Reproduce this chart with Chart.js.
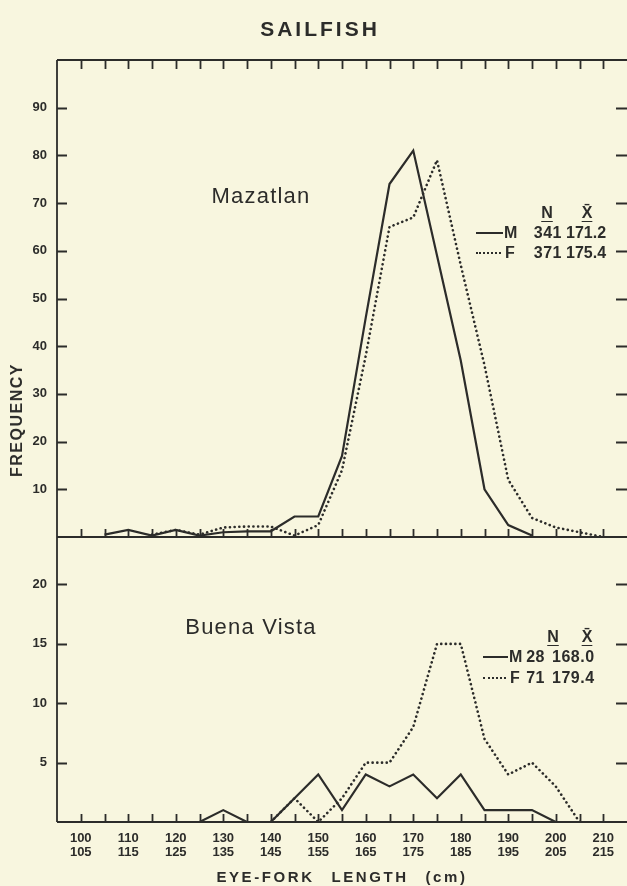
<!DOCTYPE html>
<html>
<head>
<meta charset="utf-8">
<title>Sailfish</title>
<script src="https://cdn.jsdelivr.net/npm/chart.js@4.4.0/dist/chart.umd.min.js"></script>
<style>
    html, body { margin: 0; padding: 0; background: #f8f6df; }
    body { width: 627px; height: 886px; position: relative; overflow: hidden;
           font-family: "Liberation Sans", Arial, sans-serif; color: #2c2c2a; }
    .box { position: absolute; left: 0; width: 627px; }
    .t { position: absolute; white-space: nowrap; line-height: 1; }
    .c { transform: translate(-50%, -50%); }
    .l { transform: translate(0, -50%); }
    .r { transform: translate(-100%, -50%); }
    .title { font-size: 21px; font-weight: bold; letter-spacing: 3px; }
    .place { font-size: 22px; letter-spacing: 1.2px; }
    .leg { font-size: 16px; font-weight: bold; }
    .num { letter-spacing: 0.5px; }
    .hd { text-decoration: underline; text-underline-offset: 3px; }
    .solid { position: absolute; height: 0; border-top: 2.5px solid #2c2c2a; }
    .dots { position: absolute; height: 0; border-top: 2.5px dotted #2c2c2a; }
    .ylab { font-size: 16px; font-weight: bold; letter-spacing: 1.5px; transform: translate(-50%, -50%) rotate(-90deg); }
    .xlab { font-size: 15px; font-weight: bold; letter-spacing: 2.6px; word-spacing: 10px; }
</style>
</head>
<body>
<div class="box" style="top:0;height:545px"><canvas id="topChart"></canvas></div>
<div class="box" style="top:530px;height:356px"><canvas id="botChart"></canvas></div>

<div class="t c title" style="left:320px;top:28px">SAILFISH</div>
<div class="t c place" style="left:261px;top:196px">Mazatlan</div>
<div class="t c place" style="left:251px;top:627px">Buena Vista</div>

<!-- Mazatlan legend -->
<div class="t c leg hd" style="left:547px;top:213px">N</div>
<div class="t c leg hd" style="left:587px;top:213px">X&#772;</div>
<div class="solid" style="left:476px;top:232px;width:27px"></div>
<div class="t l leg" style="left:504px;top:233px">M</div>
<div class="t r leg num" style="left:562px;top:233px">341</div>
<div class="t l leg" style="left:566px;top:233px">171.2</div>
<div class="dots" style="left:476px;top:252px;width:25px"></div>
<div class="t l leg" style="left:505px;top:253px">F</div>
<div class="t r leg num" style="left:562px;top:253px">371</div>
<div class="t l leg" style="left:566px;top:253px">175.4</div>

<!-- Buena Vista legend -->
<div class="t c leg hd" style="left:553px;top:637px">N</div>
<div class="t c leg hd" style="left:587px;top:637px">X&#772;</div>
<div class="solid" style="left:483px;top:656px;width:25px"></div>
<div class="t l leg" style="left:509px;top:657px">M</div>
<div class="t r leg num" style="left:545px;top:657px">28</div>
<div class="t l leg num" style="left:552px;top:657px">168.0</div>
<div class="dots" style="left:483px;top:677px;width:23px"></div>
<div class="t l leg" style="left:510px;top:678px">F</div>
<div class="t r leg num" style="left:545px;top:678px">71</div>
<div class="t l leg num" style="left:552px;top:678px">179.4</div>

<div class="t ylab" style="left:17px;top:420px">FREQUENCY</div>
<div class="t c xlab" style="left:342px;top:876px">EYE-FORK LENGTH (cm)</div>

<script>
// length classes (cm, lower bound of 5 cm class)
const LENGTHS = [100, 105, 110, 115, 120, 125, 130, 135, 140, 145, 150, 155,
                 160, 165, 170, 175, 180, 185, 190, 195, 200, 205, 210];

// Mazatlan frequencies
const MAZ_MALE   = [null, 0.5, 1.5, 0.3, 1.5, 0.3, 1, 1.2, 1.2, 4.3, 4.3, 17,
                    46, 74, 81, 59, 37, 10, 2.5, 0.3, null, null, null];
const MAZ_FEMALE = [null, null, null, 0.5, 1.5, 0.5, 2, 2.2, 2.2, 0.3, 2.5, 14,
                    38, 65, 67, 79, 57, 36, 12, 4, 2, 1, 0];

// Buena Vista frequencies
const BV_MALE   = [null, null, null, null, null, 0, 1, 0, 0, 2, 4, 1,
                   4, 3, 4, 2, 4, 1, 1, 1, 0, null, null];
const BV_FEMALE = [null, null, null, null, null, null, null, null, 0, 2, 0, 2,
                   5, 5, 8, 15, 15, 7, 4, 5, 3, 0, null];

const TOP_Y_TICKS = [10, 20, 30, 40, 50, 60, 70, 80, 90];
const BOT_Y_TICKS = [5, 10, 15, 20];
const X_LABEL_VALUES = [100, 110, 120, 130, 140, 150, 160, 170, 180, 190, 200, 210];
const X_LABELS_UPPER = ['100', '110', '120', '130', '140', '150', '160', '170', '180', '190', '200', '210'];
const X_LABELS_LOWER = ['105', '115', '125', '135', '145', '155', '165', '175', '185', '195', '205', '215'];

const INK = '#2c2c2a';
const tickFont = { family: "'Liberation Sans', Arial, sans-serif", size: 13, weight: 'bold' };

function points(values) {
    return LENGTHS.map((x, i) => ({ x: x, y: values[i] }));
}

function series(values, dotted) {
    return {
        data: points(values),
        borderColor: INK,
        borderWidth: dotted ? 2.6 : 2.2,
        borderDash: dotted ? [0.1, 4.6] : [],
        borderCapStyle: dotted ? 'round' : 'butt',
        borderJoinStyle: 'miter',
        pointRadius: 0,
        tension: 0,
        fill: false
    };
}

// no extra room for the end labels, the frame is placed by hand
function noPadding(s) {
    s.paddingTop = 0;
    s.paddingBottom = 0;
    s.paddingLeft = 0;
    s.paddingRight = 0;
}

// axis frame with inward tick marks
const framePlugin = {
    id: 'frame',
    afterDraw(chart, args, opts) {
        const ctx = chart.ctx;
        const area = chart.chartArea;
        const xs = chart.scales.x;
        const ys = chart.scales.y;
        ctx.save();
        ctx.strokeStyle = INK;
        ctx.lineWidth = 1.8;
        ctx.beginPath();
        ctx.moveTo(area.left, area.top);
        ctx.lineTo(area.left, area.bottom);
        ctx.moveTo(area.left, area.bottom);
        ctx.lineTo(area.right, area.bottom);
        if (opts.topEdge) {
            ctx.moveTo(area.left, area.top);
            ctx.lineTo(area.right, area.top);
        }
        LENGTHS.forEach(v => {
            const px = Math.round(xs.getPixelForValue(v)) + 0.5;
            ctx.moveTo(px, area.bottom);
            ctx.lineTo(px, area.bottom - 8);
            if (opts.topEdge) {
                ctx.moveTo(px, area.top);
                ctx.lineTo(px, area.top + 9);
            }
        });
        opts.yTicks.forEach(v => {
            const py = Math.round(ys.getPixelForValue(v)) + 0.5;
            ctx.moveTo(area.left, py);
            ctx.lineTo(area.left + 10, py);
            ctx.moveTo(area.right, py);
            ctx.lineTo(area.right - 11, py);
        });
        ctx.stroke();
        ctx.restore();
    }
};

function yScale(max, ticks) {
    return {
        min: 0,
        max: max,
        afterFit: s => { s.width = 57; noPadding(s); },
        afterBuildTicks: s => { s.ticks = ticks.map(v => ({ value: v })); },
        grid: { display: false, drawTicks: false },
        border: { display: false },
        ticks: { padding: 10, color: INK, font: tickFont }
    };
}

new Chart(document.getElementById('topChart'), {
    type: 'line',
    data: { datasets: [series(MAZ_MALE, false), series(MAZ_FEMALE, true)] },
    options: {
        responsive: true,
        maintainAspectRatio: false,
        animation: false,
        layout: { padding: { top: 60, bottom: 8, left: 0, right: 0 } },
        plugins: {
            legend: { display: false },
            tooltip: { enabled: false },
            frame: { topEdge: true, yTicks: TOP_Y_TICKS }
        },
        scales: {
            x: { type: 'linear', min: 95, max: 215, display: false },
            y: yScale(100, TOP_Y_TICKS)
        }
    },
    plugins: [framePlugin]
});

new Chart(document.getElementById('botChart'), {
    type: 'line',
    data: { datasets: [series(BV_MALE, false), series(BV_FEMALE, true)] },
    options: {
        responsive: true,
        maintainAspectRatio: false,
        animation: false,
        layout: { padding: { top: 7, bottom: 0, left: 0, right: 0 } },
        plugins: {
            legend: { display: false },
            tooltip: { enabled: false },
            frame: { topEdge: false, yTicks: BOT_Y_TICKS }
        },
        scales: {
            x: {
                type: 'linear',
                min: 95,
                max: 215,
                afterFit: s => { s.height = 64; noPadding(s); },
                afterBuildTicks: s => { s.ticks = X_LABEL_VALUES.map(v => ({ value: v })); },
                grid: { display: false, drawTicks: false },
                border: { display: false },
                ticks: {
                    autoSkip: false,
                    maxRotation: 0,
                    padding: 9,
                    color: INK,
                    font: Object.assign({}, tickFont, { lineHeight: 1.1 }),
                    callback: (value, index) => [X_LABELS_UPPER[index], X_LABELS_LOWER[index]]
                }
            },
            y: yScale(24, BOT_Y_TICKS)
        }
    },
    plugins: [framePlugin]
});
</script>
</body>
</html>
